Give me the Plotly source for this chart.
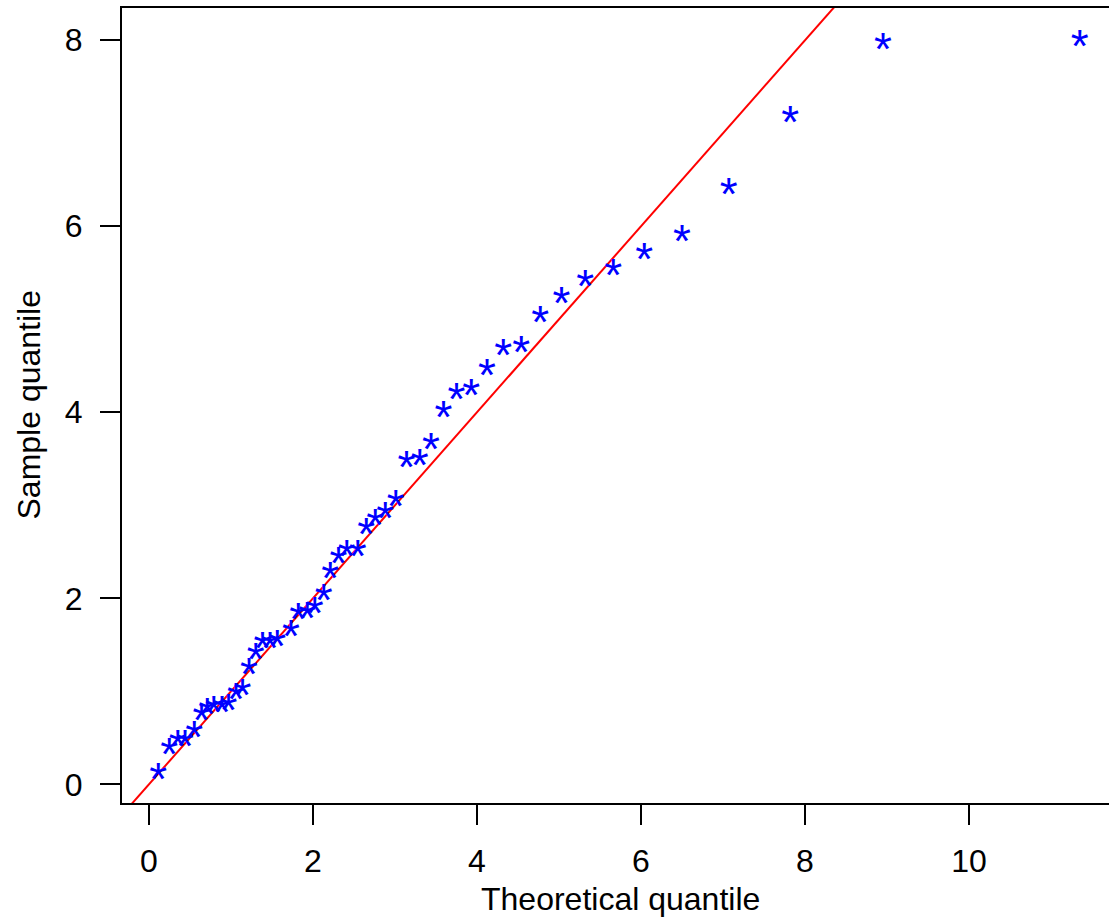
import plotly.graph_objects as go

# Data
theoretical = [0.113, 0.248, 0.35, 0.44, 0.55, 0.64, 0.71, 0.79, 0.89, 0.97,
               1.06, 1.14, 1.22, 1.30, 1.385, 1.475, 1.565, 1.73, 1.82, 1.93,
               2.02, 2.13, 2.21, 2.31, 2.41, 2.545, 2.65, 2.76, 2.88, 3.01,
               3.14, 3.30, 3.44, 3.59, 3.75, 3.93, 4.12, 4.32, 4.54, 4.77,
               5.03, 5.32, 5.66, 6.04, 6.50, 7.07, 7.82, 8.95, 11.35]
sample = [0.12, 0.38, 0.47, 0.47, 0.57, 0.75, 0.82, 0.84, 0.84, 0.86,
          0.98, 1.02, 1.24, 1.41, 1.52, 1.53, 1.55, 1.65, 1.84, 1.85,
          1.90, 2.04, 2.28, 2.44, 2.51, 2.51, 2.75, 2.85, 2.92, 3.05,
          3.47, 3.49, 3.66, 4.01, 4.20, 4.25, 4.46, 4.68, 4.71, 5.03,
          5.23, 5.42, 5.54, 5.71, 5.90, 6.41, 7.18, 7.96, 8.00]
line_intercept = 0.0
line_slope = 1.0
x_ticks = [0, 2, 4, 6, 8, 10]
y_ticks = [0, 2, 4, 6, 8]
x_range = [-0.329, 11.707]
y_range = [-0.201, 8.347]

FONT = "Liberation Sans, Arial, Helvetica, sans-serif"
BLUE = "#0000FF"
PLOT_H = 795           # plot area height in px
GLYPH_SHIFT_PX = 10    # "*" glyph sits above its text centre; shift down to centre it
shift = GLYPH_SHIFT_PX * (y_range[1] - y_range[0]) / PLOT_H
y2_range = [y_range[0] + shift, y_range[1] + shift]

fig = go.Figure()

line_x = list(x_range)
line_y = [line_intercept + line_slope * v for v in line_x]
fig.add_trace(go.Scatter(x=line_x, y=line_y, mode="lines",
                         line=dict(color="#FF0000", width=2),
                         hoverinfo="skip", showlegend=False))

# R-style pch="*" points drawn as text glyphs
fig.add_trace(go.Scatter(x=theoretical, y=sample, mode="text",
                         text=["*"] * len(sample), textposition="middle center",
                         textfont=dict(family=FONT, size=46, color=BLUE),
                         yaxis="y2", showlegend=False))

fig.update_layout(
    width=1109, height=924,
    margin=dict(l=122, r=0, t=8, b=121),
    paper_bgcolor="white", plot_bgcolor="white",
    font=dict(family=FONT, size=32, color="black"),
    xaxis=dict(range=x_range, tickvals=x_ticks, ticktext=[str(v) for v in x_ticks],
               showgrid=False, zeroline=False, showline=True, mirror=True,
               linecolor="black", linewidth=2, ticks="outside", ticklen=20,
               tickwidth=2, tickcolor="black", ticklabelstandoff=9,
               tickfont=dict(family=FONT, size=32, color="black")),
    yaxis=dict(range=y_range, tickvals=y_ticks, ticktext=[str(v) for v in y_ticks],
               showgrid=False, zeroline=False, showline=True, mirror=False,
               linecolor="black", linewidth=2, ticks="outside", ticklen=20,
               tickwidth=2, tickcolor="black", ticklabelstandoff=11,
               tickfont=dict(family=FONT, size=32, color="black")),
    yaxis2=dict(range=y2_range, overlaying="y", visible=False),
    annotations=[
        dict(text="Theoretical quantile", xref="paper", yref="paper",
             x=(620 - 122) / 987, y=-(899 - 803) / 795, xanchor="center", yanchor="middle",
             showarrow=False, font=dict(family=FONT, size=32, color="black")),
        dict(text="Sample quantile", xref="paper", yref="paper",
             x=(28 - 122) / 987, y=0.5, xanchor="center", yanchor="middle",
             textangle=-90, showarrow=False,
             font=dict(family=FONT, size=32, color="black")),
    ],
)

fig.write_html("out.html")
